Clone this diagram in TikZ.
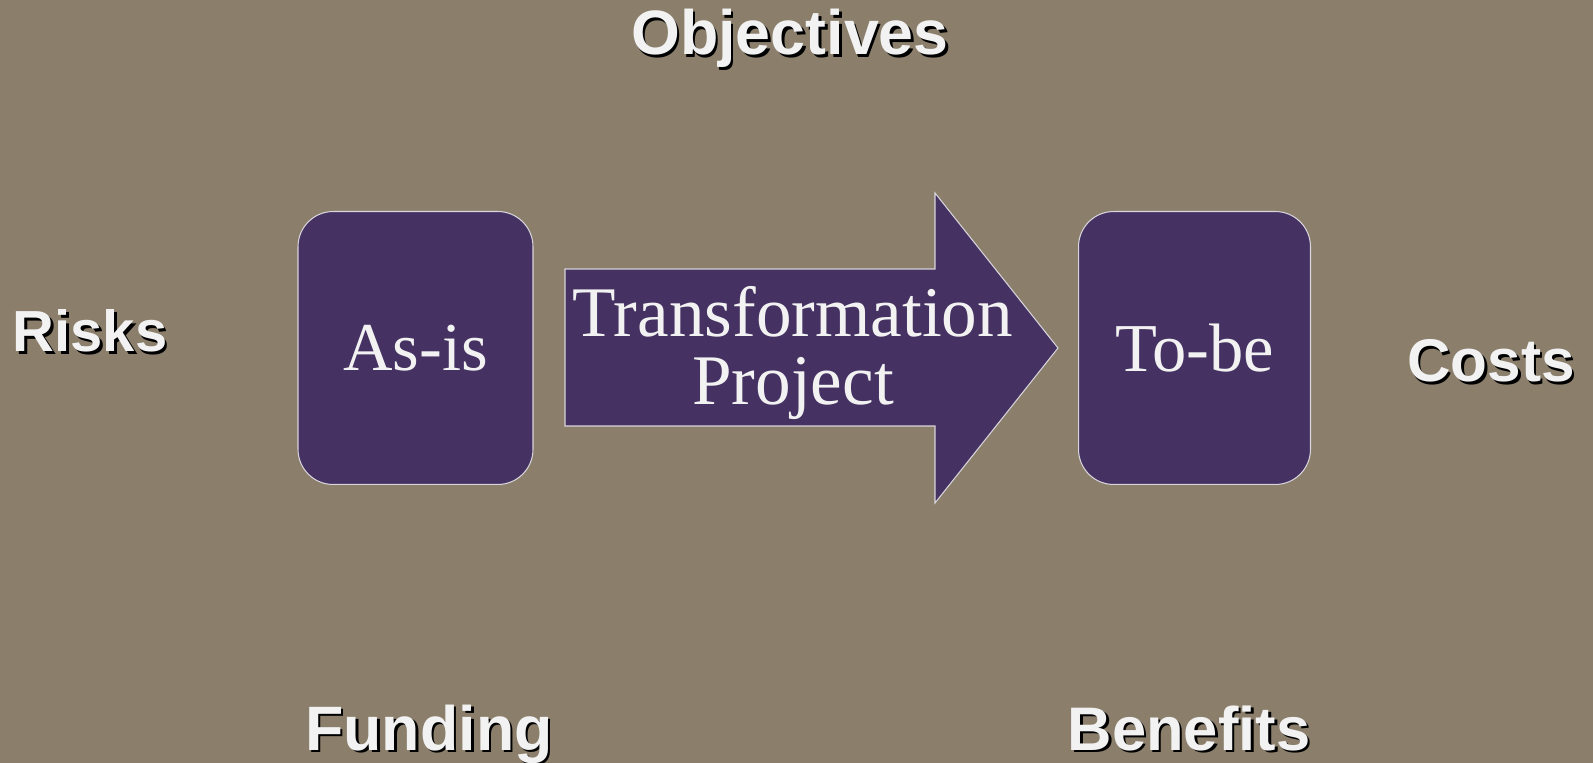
\documentclass[tikz,border=0pt]{standalone}
\usepackage{fontspec}
\setmainfont{Liberation Serif}
\newfontfamily\headfont{Liberation Sans}

\definecolor{slatebg}{HTML}{8B7F6C}
\definecolor{plum}{HTML}{453162}
\definecolor{paper}{HTML}{F2F2F2}

\tikzset{
  phase/.style={draw=paper!85!plum, line width=0.6pt, fill=plum, text=paper,
    rounded corners=20pt, inner sep=0pt,
    font=\fontsize{39}{39}\selectfont},
  factor/.style={anchor=base, text=paper, inner sep=0pt,
    font=\headfont\bfseries\fontsize{#1}{#1}\selectfont},
}

\begin{document}
\begin{tikzpicture}[x=0.02cm, y=-0.02cm]
    \useasboundingbox (0,0) rectangle (1593,763);
    \fill[slatebg] (0,0) rectangle (1593,763);

    % the two states
    \node[phase, minimum width=4.7cm, minimum height=5.46cm] (asis) at (415.5,348) {As-is};
    \node[phase, minimum width=4.64cm, minimum height=5.46cm] (tobe) at (1194.5,348) {To-be};

    % big arrow in between
    \draw[draw=paper!85!plum, line width=0.6pt, fill=plum]
      (565,269) -- (935,269) -- (935,193) -- (1058,348) -- (935,503) -- (935,426) -- (565,426) -- cycle;
    \node[text=paper, align=center, font=\fontsize{40.5}{39}\selectfont] (trans) at (793,353)
      {Transformation\\Project};

    % factors round the project, with their drop shadow
    \foreach \nm/\px/\py/\fs/\txt in {obj/790/55/35.7/Objectives, risks/90/352/33/Risks,
        costs/1491/382/34.3/Costs, fund/429/750/35.7/Funding, bene/1189/750/35/Benefits}{
      \node[factor=\fs, text=black] at (\px+2.5,\py+2.5) {\txt};
      \node[factor=\fs] (\nm) at (\px,\py) {\txt};
    }
\end{tikzpicture}
\end{document}
